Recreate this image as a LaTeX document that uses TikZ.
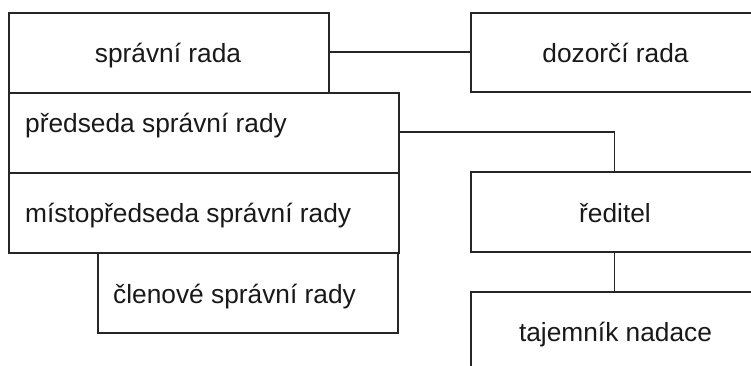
\documentclass[tikz,border=0pt]{standalone}
\usepackage{fontspec}
\setmainfont{Liberation Sans}
\begin{document}
\begin{tikzpicture}[x=1pt,y=-1pt,
  box/.style={draw=black!85,line width=1.3pt,rectangle,inner sep=0pt},
  lbl/.style={inner sep=0pt,font=\fontsize{26.3}{30}\selectfont,text=black!90},
  conn/.style={draw=black!85,line width=1.3pt}]
\useasboundingbox (0,0) rectangle (751,365);
\clip (0,0) rectangle (751,365);
\fill[white] (0,0) rectangle (751,365);
% boxes
\node[box,minimum width=320pt,minimum height=80pt] (sr) at (169,53) {};
\node[box,minimum width=287pt,minimum height=79pt] (dr) at (614.5,52.5) {};
\node[box,minimum width=390pt,minimum height=80pt] (ps) at (204,133) {};
\node[box,minimum width=390pt,minimum height=80pt] (mps) at (204,213) {};
\node[box,minimum width=300pt,minimum height=80pt] (cl) at (248,293) {};
\node[box,minimum width=287pt,minimum height=80pt] (red) at (614.5,212) {};
\node[box,minimum width=287pt,minimum height=108pt] (taj) at (614.5,346) {};
% labels
\node[lbl,anchor=base] (tsr) at (168,62) {správní rada};
\node[lbl,anchor=base] (tdr) at (615.5,62) {dozorčí rada};
\node[lbl,anchor=base west] (tps) at (25,132) {předseda správní rady};
\node[lbl,anchor=base west] (tmps) at (25,222) {místopředseda správní rady};
\node[lbl,anchor=base west] (tcl) at (113,303) {členové správní rady};
\node[lbl,anchor=base] (tred) at (615,222) {ředitel};
\node[lbl,anchor=base] (ttaj) at (615.5,341) {tajemník nadace};
% connectors
\draw[conn] ([yshift=1pt]sr.east) -- ([yshift=0.5pt]dr.west);
\draw[conn] ([yshift=1pt]ps.east) -| (red.north);
\draw[conn] (red.south) -- (taj.north);
\end{tikzpicture}
\end{document}
